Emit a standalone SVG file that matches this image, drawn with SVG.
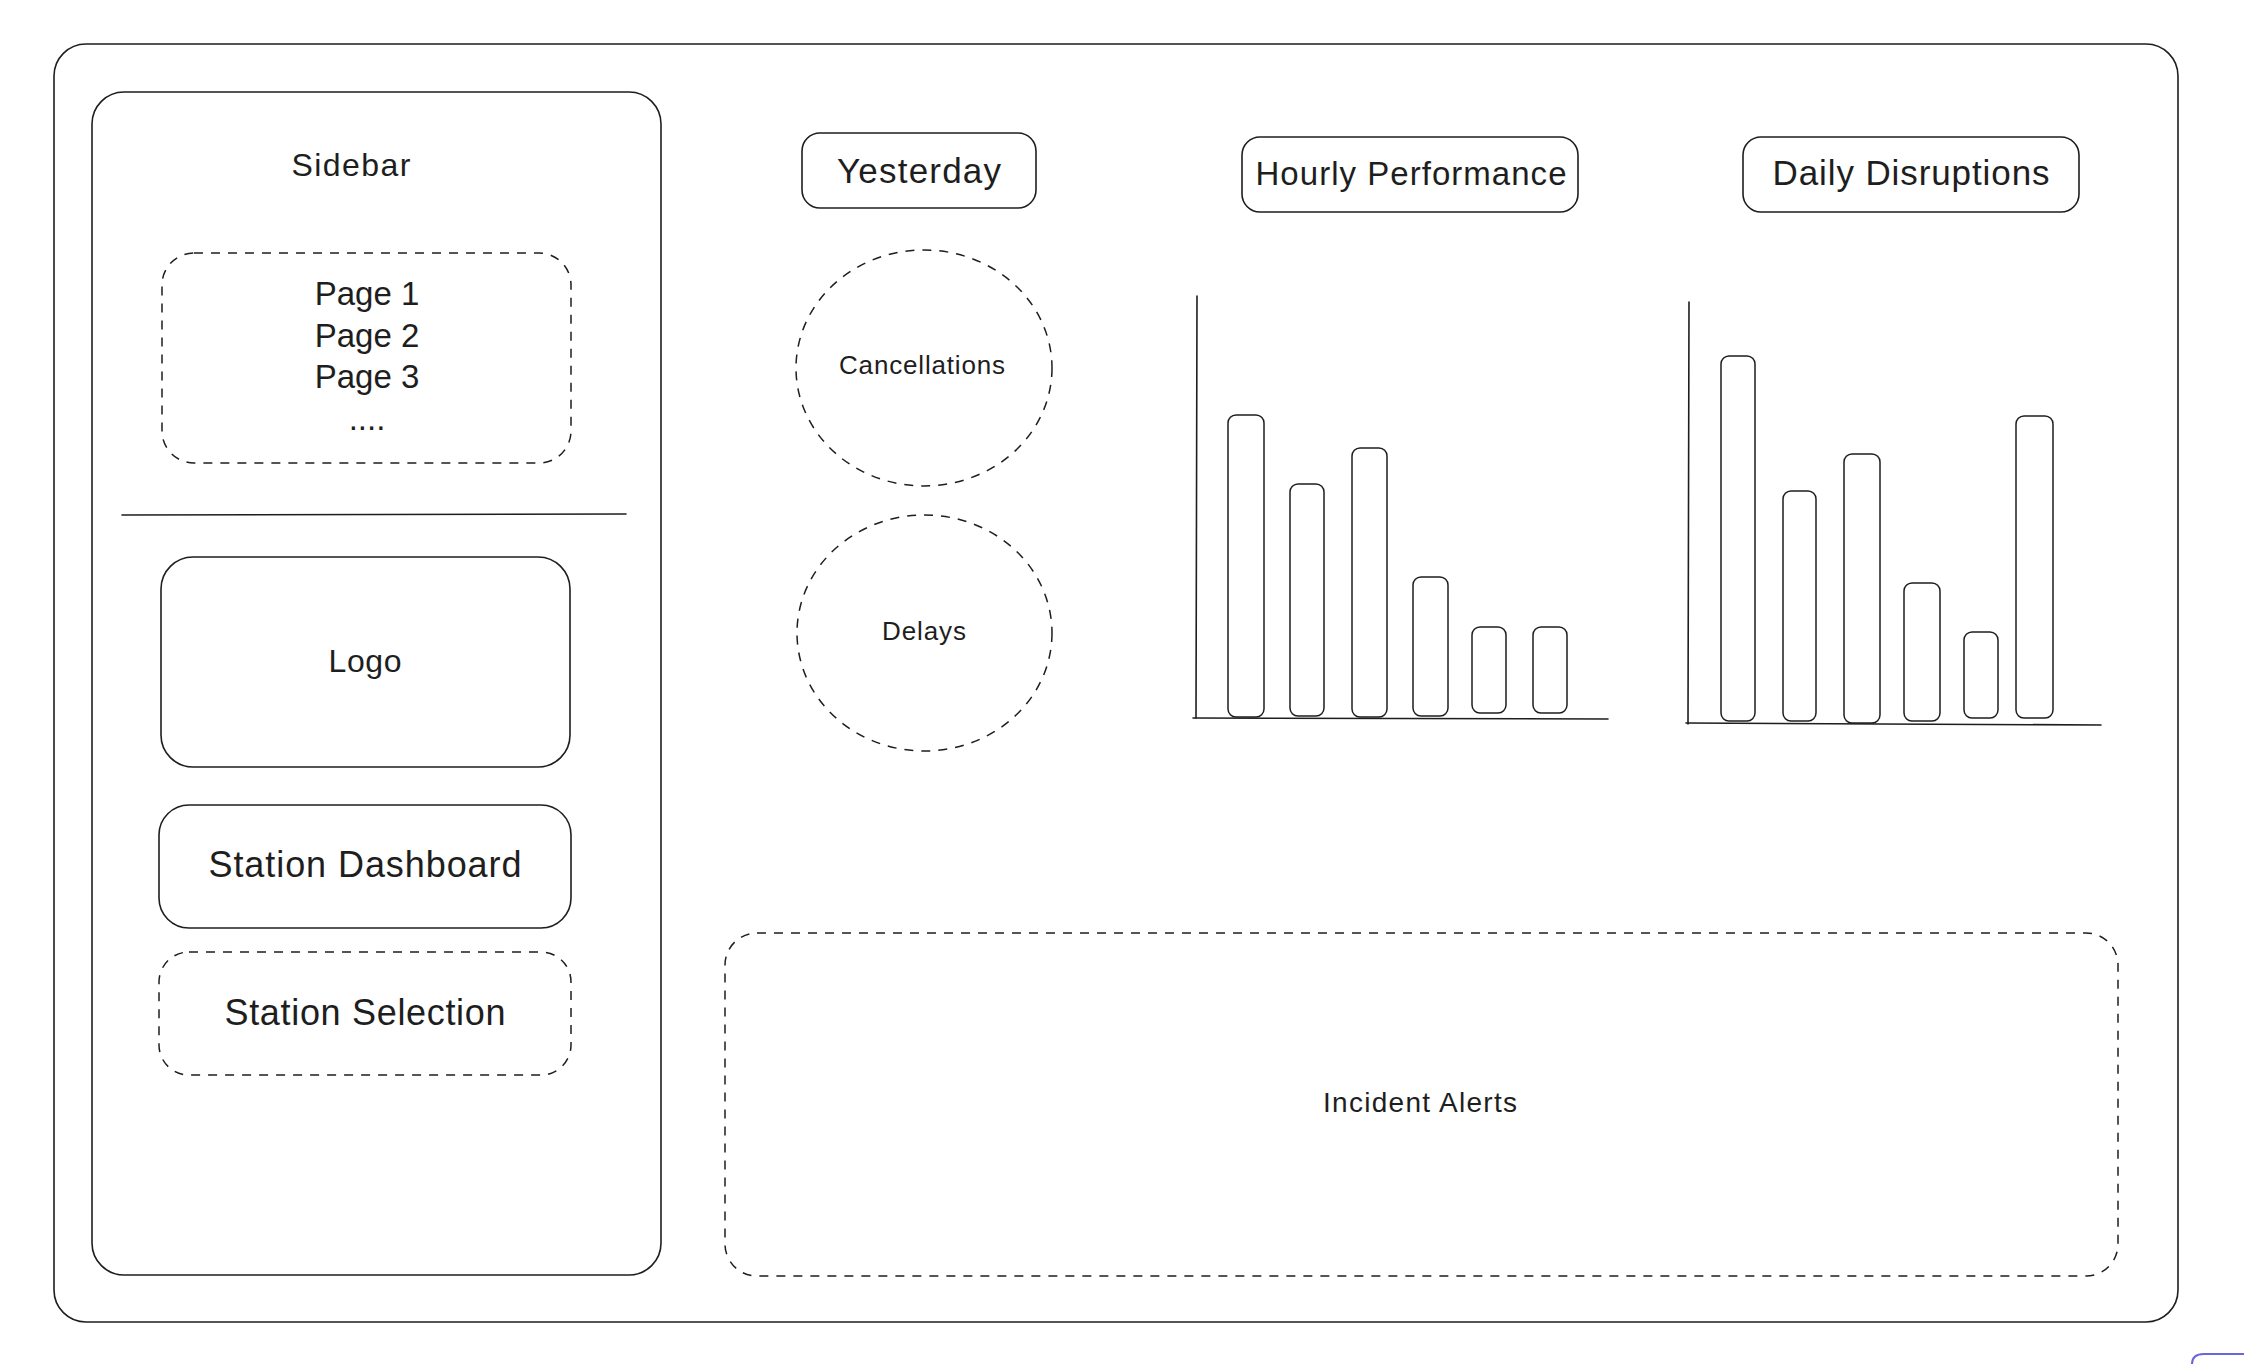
<svg xmlns="http://www.w3.org/2000/svg" width="2244" height="1364" viewBox="0 0 2244 1364">
<style>
  .box{fill:none;stroke:#1e1e1e;stroke-width:1.6;stroke-linejoin:round;stroke-linecap:round}
  .dash{fill:none;stroke:#1e1e1e;stroke-width:1.5;stroke-dasharray:9 8}
  .axis{fill:none;stroke:#1e1e1e;stroke-width:1.6;stroke-linecap:round}
  .bar{fill:none;stroke:#1e1e1e;stroke-width:1.5}
  .t{font-family:"Liberation Sans",Arial,sans-serif;fill:#1e1e1e;text-anchor:middle}
</style>
<rect width="2244" height="1364" fill="#ffffff"/>
<g id="frame">
  <rect class="box" x="54" y="44" width="2124" height="1278" rx="32"/>
</g>
<g id="sidebar">
  <rect class="box" x="92" y="92" width="569" height="1183" rx="32"/>
  <text class="t" x="351" y="176" font-size="32" textLength="119">Sidebar</text>
</g>
<g id="pages">
  <rect class="dash" x="162" y="253" width="409" height="210" rx="32"/>
  <text class="t" x="367" y="305" font-size="33">Page 1</text>
  <text class="t" x="367" y="347" font-size="33">Page 2</text>
  <text class="t" x="367" y="388" font-size="33">Page 3</text>
  <text class="t" x="367" y="430" font-size="33">....</text>
</g>
<g id="divider">
  <line class="axis" x1="122" y1="515" x2="626" y2="514"/>
</g>
<g id="logo">
  <rect class="box" x="161" y="557" width="409" height="210" rx="32"/>
  <text class="t" x="365" y="672" font-size="32" textLength="73">Logo</text>
</g>
<g id="station-dashboard">
  <rect class="box" x="159" y="805" width="412" height="123" rx="30"/>
  <text class="t" x="365" y="877" font-size="36" textLength="313">Station Dashboard</text>
</g>
<g id="station-selection">
  <rect class="dash" x="159" y="952" width="412" height="123" rx="30"/>
  <text class="t" x="365" y="1025" font-size="36" textLength="281">Station Selection</text>
</g>
<g id="yesterday">
  <rect class="box" x="802" y="133" width="234" height="75" rx="18"/>
  <text class="t" x="919" y="183" font-size="35" textLength="164">Yesterday</text>
</g>
<g id="cancellations">
  <ellipse class="dash" cx="924" cy="368" rx="128" ry="118"/>
  <text class="t" x="922" y="374" font-size="26" textLength="166">Cancellations</text>
</g>
<g id="delays">
  <ellipse class="dash" cx="924.5" cy="633" rx="127.5" ry="118"/>
  <text class="t" x="924" y="640" font-size="26" textLength="84">Delays</text>
</g>
<g id="hourly-performance">
  <rect class="box" x="1242" y="137" width="336" height="75" rx="18"/>
  <text class="t" x="1411" y="185" font-size="33" textLength="311">Hourly Performance</text>
</g>
<g id="hourly-chart">
  <line class="axis" x1="1197" y1="296" x2="1196" y2="718"/>
  <line class="axis" x1="1193" y1="718" x2="1608" y2="719"/>
  <rect class="bar" x="1228" y="415" width="36" height="302" rx="8"/>
  <rect class="bar" x="1290" y="484" width="34" height="232" rx="8"/>
  <rect class="bar" x="1352" y="448" width="35" height="269" rx="8"/>
  <rect class="bar" x="1413" y="577" width="35" height="139" rx="8"/>
  <rect class="bar" x="1472" y="627" width="34" height="86" rx="8"/>
  <rect class="bar" x="1533" y="627" width="34" height="86" rx="8"/>
</g>
<g id="daily-disruptions">
  <rect class="box" x="1743" y="137" width="336" height="75" rx="18"/>
  <text class="t" x="1911" y="185" font-size="35" textLength="277">Daily Disruptions</text>
</g>
<g id="daily-chart">
  <line class="axis" x1="1689" y1="302" x2="1688" y2="724"/>
  <line class="axis" x1="1686" y1="723" x2="2101" y2="725"/>
  <rect class="bar" x="1721" y="356" width="34" height="365" rx="8"/>
  <rect class="bar" x="1783" y="491" width="33" height="230" rx="8"/>
  <rect class="bar" x="1844" y="454" width="36" height="269" rx="8"/>
  <rect class="bar" x="1904" y="583" width="36" height="138" rx="8"/>
  <rect class="bar" x="1964" y="632" width="34" height="86" rx="8"/>
  <rect class="bar" x="2016" y="416" width="37" height="302" rx="8"/>
</g>
<g id="incident-alerts">
  <rect class="dash" x="725" y="933" width="1393" height="343" rx="32"/>
  <text class="t" x="1420" y="1112" font-size="28" textLength="194">Incident Alerts</text>
</g>
<g id="connectors"></g>
<path d="M2192,1364 Q2192,1354 2204,1354 L2244,1354" fill="none" stroke="#6965db" stroke-width="2"/>
</svg>
